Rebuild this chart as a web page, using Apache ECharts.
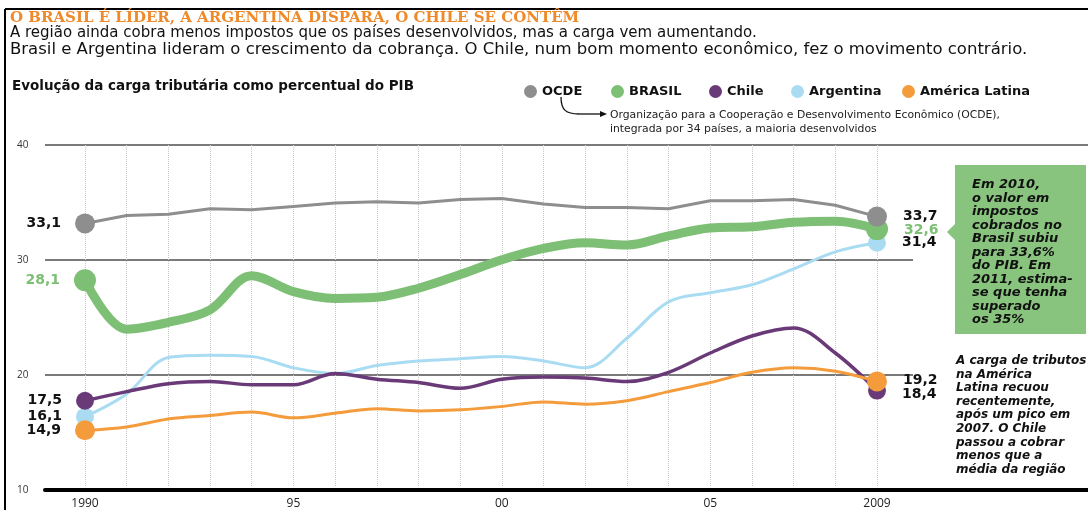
<!DOCTYPE html>
<html><head><meta charset="utf-8">
<script src="https://cdn.jsdelivr.net/npm/echarts@6/dist/echarts.min.js"></script>
<style>html,body{margin:0;padding:0;background:#fff}#c{width:1088px;height:510px}</style>
</head><body><div id="c"></div>
<script>
const years = ['1990','1991','1992','1993','1994','1995','1996','1997','1998','1999','2000','2001','2002','2003','2004','2005','2006','2007','2008','2009'];
const xTickLabels = ['1990','','','','','95','','','','','00','','','','','05','','','','2009'];
const ocde      = [33.1,33.8,33.9,34.4,34.3,34.6,34.9,35.0,34.9,35.2,35.3,34.8,34.5,34.5,34.4,35.1,35.1,35.2,34.7,33.7];
const brasil    = [28.1,23.8,24.4,25.5,28.5,27.1,26.5,26.6,27.4,28.6,29.9,30.9,31.4,31.2,32.0,32.7,32.8,33.2,33.3,32.6];
const chile     = [17.5,18.3,19.0,19.2,18.9,18.9,19.9,19.4,19.1,18.6,19.4,19.6,19.5,19.2,20.0,21.7,23.2,23.9,21.7,18.4];
const argentina = [16.1,18.1,21.3,21.5,21.4,20.4,19.9,20.6,21.0,21.2,21.4,21.0,20.4,23.0,26.2,27.0,27.7,29.1,30.6,31.4];
const amLatina  = [14.9,15.2,15.9,16.2,16.5,16.0,16.4,16.8,16.6,16.7,17.0,17.4,17.2,17.5,18.3,19.1,20.0,20.4,20.1,19.2];
const yTicks = [10,20,30,40];

const C = {ocde:'#8e8e8e', brasil:'#7dbf74', chile:'#6a3a78', arg:'#a9dcf2', al:'#f49b3c'};
const FONT = '"Open Sans", sans-serif';
const WIDE = '"DejaVu Sans", sans-serif';
const fmt = v => String(v).replace('.', ',');

function build(arr, color, name, width, symSize, labelColor, rightOffset, smooth, z) {
  const last = arr.length - 1;
  const lab = {formatter:p=>fmt(p.value), color:labelColor, fontWeight:'bold', fontSize:14, fontFamily:WIDE};
  return {
    type:'line', name, xAxisIndex:0, yAxisIndex:0, smooth, z,
    symbol:'circle', showAllSymbol:true,
    symbolSize:(v,p)=> (p.dataIndex===0||p.dataIndex===last)? symSize : 0,
    lineStyle:{color, width, cap:'round', join:'round'},
    itemStyle:{color},
    emphasis:{disabled:true},
    data: arr.map((v,i)=>{
      if (i===0) return {value:v, label:Object.assign({show:true, position:'left', distance:14}, lab)};
      if (i===last) return {value:v, label:Object.assign({show:true, position:'right', distance:16, offset:rightOffset||[0,0]}, lab)};
      return v;
    })
  };
}

const chart = echarts.init(document.getElementById('c'), null, {renderer:'canvas'});
const legendNames = ['OCDE','BRASIL','Chile','Argentina','América Latina'];
const legendLeft = [519, 606, 704, 786, 897];
const legends = legendNames.map((n,i)=>({
  data:[n], left:legendLeft[i], top:80, icon:'circle', itemWidth:13, itemHeight:13, itemGap:0,
  selectedMode:false, textStyle:{fontFamily:WIDE, fontWeight:'bold', fontSize:13, color:'#111'}
}));

chart.setOption({
  animation:false,
  legend: legends,
  grid:[
    {left:85, right:211, top:145, bottom:20},
    {left:45, right:175, top:145, bottom:20},
    {left:45, right:0, top:145, bottom:20}
  ],
  xAxis:[
    {type:'category', gridIndex:0, data:years, boundaryGap:false,
     axisLine:{show:false}, axisTick:{show:false},
     axisLabel:{interval:0, margin:12, formatter:(v,i)=>xTickLabels[i], color:'#222', fontSize:12, fontFamily:FONT},
     splitLine:{show:true, interval:0, lineStyle:{color:'#c8c8c8', type:'dotted', width:1}}},
    {type:'value', gridIndex:1, show:false},
    {type:'value', gridIndex:2, axisLine:{show:true, onZero:false, lineStyle:{color:'#000', width:4}}, axisTick:{show:false}, axisLabel:{show:false}, splitLine:{show:false}}
  ],
  yAxis:[
    {type:'value', gridIndex:0, min:10, max:40, interval:10, show:false},
    {type:'value', gridIndex:1, min:10, max:40, interval:10, axisLine:{show:false}, axisTick:{show:false},
     axisLabel:{align:'left', margin:28, color:'#333', fontSize:10, fontFamily:FONT, formatter:v=>yTicks.includes(v)?String(v):''},
     splitLine:{show:true, lineStyle:{color:'#7a7a7a', width:2}}},
    {type:'value', gridIndex:2, min:10, max:40, interval:10, axisLine:{show:false}, axisTick:{show:false}, axisLabel:{show:false},
     splitLine:{show:true, lineStyle:{color:['transparent','transparent','transparent','#7a7a7a'], width:2}}}
  ],
  series:[
    build(argentina, C.arg, 'Argentina', 3, 18, '#111', [0,0], 0.35, 3),
    build(brasil, C.brasil, 'BRASIL', 9, 22, C.brasil, [0,1], 0.35, 4),
    build(ocde, C.ocde, 'OCDE', 3, 20, '#111', [0,0], false, 5),
    build(chile, C.chile, 'Chile', 3.5, 18, '#111', [0,4], 0.35, 6),
    build(amLatina, C.al, 'América Latina', 3, 20, '#111', [0,-1], 0.35, 7)
  ],
  graphic:[
    {type:'line', shape:{x1:5, y1:9, x2:1088, y2:9}, style:{stroke:'#000', lineWidth:2}},
    {type:'line', shape:{x1:5, y1:9, x2:5, y2:510}, style:{stroke:'#000', lineWidth:2}},
    {type:'text', x:10, y:11, style:{text:'O BRASIL É LÍDER, A ARGENTINA DISPARA, O CHILE SE CONTÊM', fill:'#ef8a2b', font:'bold 15px "DejaVu Serif", serif'}},
    {type:'text', x:10, y:26, style:{text:'A região ainda cobra menos impostos que os países desenvolvidos, mas a carga vem aumentando.', fill:'#111', font:'15px '+WIDE}},
    {type:'text', x:10, y:41, style:{text:'Brasil e Argentina lideram o crescimento da cobrança. O Chile, num bom momento econômico, fez o movimento contrário.', fill:'#111', font:'16.5px '+WIDE}},
    {type:'text', x:12, y:79, style:{text:'Evolução da carga tributária como percentual do PIB', fill:'#111', font:'bold 13.5px '+WIDE}},
    {type:'bezierCurve', shape:{x1:561, y1:97, cpx1:561, cpy1:110, cpx2:566, cpy2:114, x2:579, y2:114}, style:{stroke:'#111', lineWidth:1.3, fill:null}},
    {type:'line', shape:{x1:579, y1:114, x2:601, y2:114}, style:{stroke:'#111', lineWidth:1.3}},
    {type:'polygon', shape:{points:[[600,111],[607,114],[600,117]]}, style:{fill:'#111'}},
    {type:'text', x:610, y:108, style:{text:'Organização para a Cooperação e Desenvolvimento Econômico (OCDE),\nintegrada por 34 países, a maioria desenvolvidos', fill:'#222', font:'10.8px '+WIDE, lineHeight:14}},
    {type:'polygon', shape:{points:[[955,165],[1086,165],[1086,334],[955,334],[955,240],[947,232],[955,224]]}, style:{fill:'#88c47e'}},
    {type:'text', x:972, y:178, style:{text:'Em 2010,\no valor em\nimpostos\ncobrados no\nBrasil subiu\npara 33,6%\ndo PIB. Em\n2011, estima-\nse que tenha\nsuperado\nos 35%', fill:'#111', font:'italic bold 13px '+WIDE, lineHeight:13.5}},
    {type:'text', x:956, y:354, style:{text:'A carga de tributos\nna América\nLatina recuou\nrecentemente,\napós um pico em\n2007. O Chile\npassou a cobrar\nmenos que a\nmédia da região', fill:'#111', font:'italic bold 12px '+WIDE, lineHeight:13.6}}
  ]
});
</script></body></html>
